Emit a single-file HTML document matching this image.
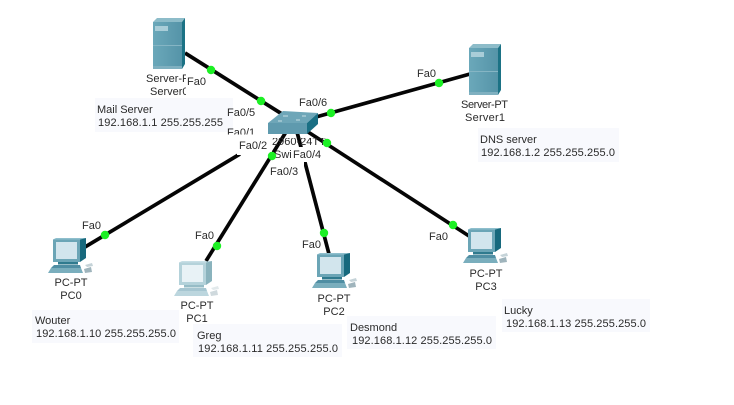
<!DOCTYPE html>
<html><head><meta charset="utf-8">
<style>
html,body{margin:0;padding:0;background:#fff;width:734px;height:405px;overflow:hidden}
svg{display:block;filter:blur(0.25px)}
text{font-family:"Liberation Sans",Arial,sans-serif;font-size:11px;fill:#2a2a2a}
.c{text-anchor:middle}
.l{stroke:#050505;stroke-width:3.7;fill:none}
.d{fill:#1cf024}
.n{fill:#f8f9fd}
.w{fill:#fff}
</style></head><body>
<svg width="734" height="405" viewBox="0 0 734 405" xmlns="http://www.w3.org/2000/svg">
<defs>
<linearGradient id="sf" x1="0" x2="1" y1="0" y2="0"><stop offset="0" stop-color="#6ba8ba"/><stop offset="1" stop-color="#5594a8"/></linearGradient>
<g id="srv">
<polygon points="0,4 4,0 32,0 29,4" fill="#8dbcc9"/>
<polygon points="29,4 32,0 32,46 29,51" fill="#1b7285"/>
<rect x="0" y="4" width="29" height="47" fill="url(#sf)"/>
<rect x="2" y="8" width="13" height="5" fill="#a9cdd8"/>
<rect x="0" y="27" width="29" height="1" fill="#85b5c4"/>
<rect x="0" y="48" width="29" height="3" fill="#7fb0c0"/>
</g>
<g id="pc">
<polygon points="5,1.500 8,0 38,0 32,1.500" fill="#8fbfcd"/>
<polygon points="32,1.500 38,0 38,20 32,24" fill="#17697d"/>
<rect x="5" y="1.500" width="27" height="22.500" fill="#6ba5b6"/>
<rect x="8" y="4" width="21" height="17" fill="#d2e5ed"/>
<rect x="10" y="24" width="20" height="2.500" fill="#2f7a8e"/>
<polygon points="6,27 32,27 33,30 3,30" fill="#4f8ea3"/>
<polygon points="3,30 33,30 35,35 0,35" fill="#7aaebd"/>
<polygon points="37,27 44,25 45,28 39,29" fill="#c5d3d8"/>
<polygon points="36,31 43,29 44,34 37,35" fill="#9fb4bc"/>
</g>
<clipPath id="cs"><rect x="140" y="70" width="46" height="30"/></clipPath>
<clipPath id="c1"><rect x="220" y="120" width="50" height="14.500"/></clipPath>
<clipPath id="cm"><rect x="272" y="138" width="60" height="9"/></clipPath>
<clipPath id="cw"><rect x="270" y="147" width="21" height="15"/></clipPath>
</defs>

<rect class="n" x="95" y="98" width="138" height="34"/>
<rect class="n" x="478" y="128" width="141" height="34"/>
<rect class="n" x="32" y="310" width="147" height="33"/>
<rect class="n" x="193" y="324" width="149" height="33"/>
<rect class="n" x="347" y="316" width="149" height="33"/>
<rect class="n" x="502" y="299" width="148" height="33"/>

<line class="l" x1="185" y1="53" x2="282" y2="114"/>
<line class="l" x1="316" y1="117" x2="470" y2="74"/>
<line class="l" x1="305" y1="130" x2="469" y2="236"/>
<line class="l" x1="297" y1="132" x2="329" y2="254"/>
<line class="l" x1="286" y1="132" x2="206" y2="261"/>
<line class="l" x1="240" y1="154" x2="85" y2="247"/>

<use href="#srv" x="153" y="18"/>
<use href="#srv" x="469" y="44"/>
<use href="#pc" x="48" y="238"/>
<use href="#pc" x="174" y="261" opacity="0.5"/>
<use href="#pc" x="312" y="253"/>
<use href="#pc" x="463" y="228"/>

<polygon points="268,123 283,111 318,113 307,123" fill="#6ea6b8"/>
<polygon points="307,123 318,113 318,124 307,134" fill="#1a6f84"/>
<rect x="268" y="123" width="39" height="11" fill="#5f9aae"/>
<g stroke="#c6dde5" stroke-width="1"><line x1="283" y1="116" x2="288" y2="116"/><line x1="302" y1="116" x2="306" y2="116"/><line x1="278" y1="121" x2="282" y2="121"/><line x1="296" y1="120" x2="300" y2="120"/></g>

<text x="146" y="82" clip-path="url(#cs)">Server-PT</text>
<text x="150" y="95" clip-path="url(#cs)">Server0</text>
<text x="461" y="108" textLength="47">Server-PT</text>
<text x="465" y="121" textLength="40">Server1</text>
<text class="c" x="71" y="286">PC-PT</text><text class="c" x="71" y="299">PC0</text>
<text class="c" x="197" y="309">PC-PT</text><text class="c" x="197" y="322">PC1</text>
<text class="c" x="334" y="302">PC-PT</text><text class="c" x="334" y="315">PC2</text>
<text class="c" x="486" y="277">PC-PT</text><text class="c" x="486" y="290">PC3</text>

<text x="227" y="136" clip-path="url(#c1)">Fa0/1</text>
<rect class="w" x="237" y="135" width="35" height="20"/>
<rect class="w" x="292" y="147" width="34" height="15"/>
<rect class="w" x="270" y="162" width="34" height="15"/>
<text x="272" y="145" clip-path="url(#cm)">2960-24TT</text>
<text x="274" y="158" clip-path="url(#cw)">Switch0</text>
<text x="239" y="149">Fa0/2</text>
<text x="293" y="158">Fa0/4</text>
<text x="270" y="175">Fa0/3</text>
<text x="227" y="116">Fa0/5</text>
<text x="299" y="106">Fa0/6</text>
<text x="187" y="85">Fa0</text>
<text x="82" y="229">Fa0</text>
<text x="195" y="239">Fa0</text>
<text x="302" y="248">Fa0</text>
<text x="429" y="240">Fa0</text>
<text x="417" y="77">Fa0</text>

<circle class="d" cx="211" cy="70" r="4.200"/>
<circle class="d" cx="261" cy="101" r="4.200"/>
<circle class="d" cx="331" cy="113" r="4.200"/>
<circle class="d" cx="439" cy="83" r="4.200"/>
<circle class="d" cx="327" cy="143" r="4.200"/>
<circle class="d" cx="453" cy="225" r="4.200"/>
<circle class="d" cx="272" cy="156" r="4.200"/>
<circle class="d" cx="217" cy="246" r="4.200"/>
<circle class="d" cx="324" cy="233" r="4.200"/>
<circle class="d" cx="105" cy="235" r="4.200"/>

<text x="97" y="113">Mail Server</text><text x="98" y="126" textLength="125">192.168.1.1 255.255.255</text>
<text x="480" y="143">DNS server</text><text x="481" y="156" textLength="134">192.168.1.2 255.255.255.0</text>
<text x="35" y="324">Wouter</text><text x="36" y="337" textLength="140">192.168.1.10 255.255.255.0</text>
<text x="197" y="339">Greg</text><text x="198" y="352" textLength="140">192.168.1.11 255.255.255.0</text>
<text x="350" y="331">Desmond</text><text x="352" y="344" textLength="140">192.168.1.12 255.255.255.0</text>
<text x="504" y="314">Lucky</text><text x="506" y="327" textLength="140">192.168.1.13 255.255.255.0</text>
</svg>
</body></html>
